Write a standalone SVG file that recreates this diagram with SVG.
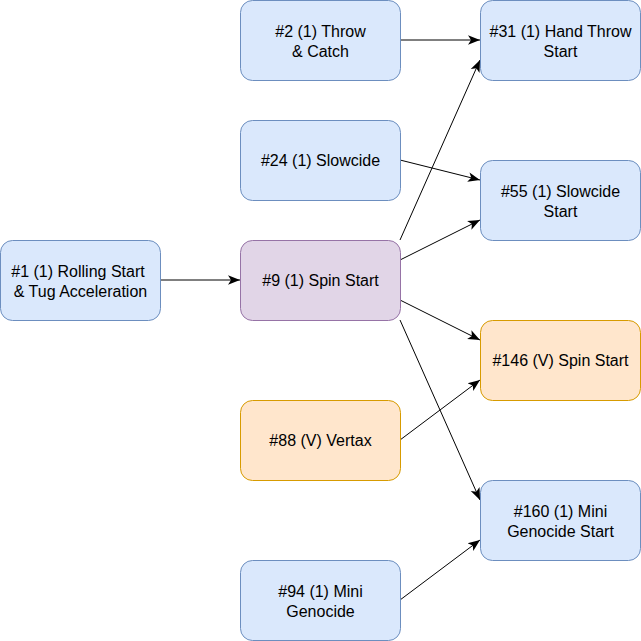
<svg xmlns="http://www.w3.org/2000/svg" width="641" height="641" viewBox="0 0 641 641">
<style>
.n rect{stroke-width:1}
.blue rect{fill:#dae8fc;stroke:#6c8ebf}
.purple rect{fill:#e1d5e7;stroke:#9673a6}
.orange rect{fill:#ffe6cc;stroke:#d79b00}
text{font-family:"Liberation Sans",Arial,sans-serif;font-size:16px;fill:#000;text-anchor:middle}
.e line{stroke:#000;stroke-width:1;fill:none;marker-end:url(#arr)}
</style>
<defs>
<marker id="arr" markerUnits="userSpaceOnUse" markerWidth="12" markerHeight="12" viewBox="0 0 10 8" refX="10" refY="4" orient="auto">
<path d="M0,0 L10,4 L0,8 L2.5,4 Z" fill="#000"/>
</marker>
</defs>
<rect width="641" height="641" fill="#fff"/>
<g id="connectors" class="e">
<line x1="160" y1="280" x2="240" y2="280"/>
<line x1="400" y1="40" x2="480" y2="40"/>
<line x1="400" y1="160" x2="480" y2="180"/>
<line x1="400" y1="240" x2="480" y2="60"/>
<line x1="400" y1="260" x2="480" y2="220"/>
<line x1="400" y1="300" x2="480" y2="340"/>
<line x1="400" y1="320" x2="480" y2="500"/>
<line x1="400" y1="440" x2="480" y2="380"/>
<line x1="400" y1="600" x2="480" y2="540"/>
</g>
<g id="n1" class="n blue"><rect x="0.5" y="240.5" width="160" height="80" rx="12"/><text x="78" y="277">#1 (1) Rolling Start</text><text x="80.5" y="297">&amp; Tug Acceleration</text></g>
<g id="n2" class="n blue"><rect x="240.5" y="0.5" width="160" height="80" rx="12"/><text x="320.5" y="37">#2 (1) Throw</text><text x="320.5" y="57">&amp; Catch</text></g>
<g id="n24" class="n blue"><rect x="240.5" y="120.5" width="160" height="80" rx="12"/><text x="320.5" y="166">#24 (1) Slowcide</text></g>
<g id="n9" class="n purple"><rect x="240.5" y="240.5" width="160" height="80" rx="12"/><text x="320.5" y="286">#9 (1) Spin Start</text></g>
<g id="n88" class="n orange"><rect x="240.5" y="400.5" width="160" height="80" rx="12"/><text x="320.5" y="446">#88 (V) Vertax</text></g>
<g id="n94" class="n blue"><rect x="240.5" y="560.5" width="160" height="80" rx="12"/><text x="320.5" y="597">#94 (1) Mini</text><text x="320.5" y="617">Genocide</text></g>
<g id="n31" class="n blue"><rect x="480.5" y="0.5" width="160" height="80" rx="12"/><text x="560.5" y="37">#31 (1) Hand Throw</text><text x="560.5" y="57">Start</text></g>
<g id="n55" class="n blue"><rect x="480.5" y="160.5" width="160" height="80" rx="12"/><text x="560.5" y="197">#55 (1) Slowcide</text><text x="560.5" y="217">Start</text></g>
<g id="n146" class="n orange"><rect x="480.5" y="320.5" width="160" height="80" rx="12"/><text x="560.5" y="366">#146 (V) Spin Start</text></g>
<g id="n160" class="n blue"><rect x="480.5" y="480.5" width="160" height="80" rx="12"/><text x="560.5" y="517">#160 (1) Mini</text><text x="560.5" y="537">Genocide Start</text></g>
</svg>
